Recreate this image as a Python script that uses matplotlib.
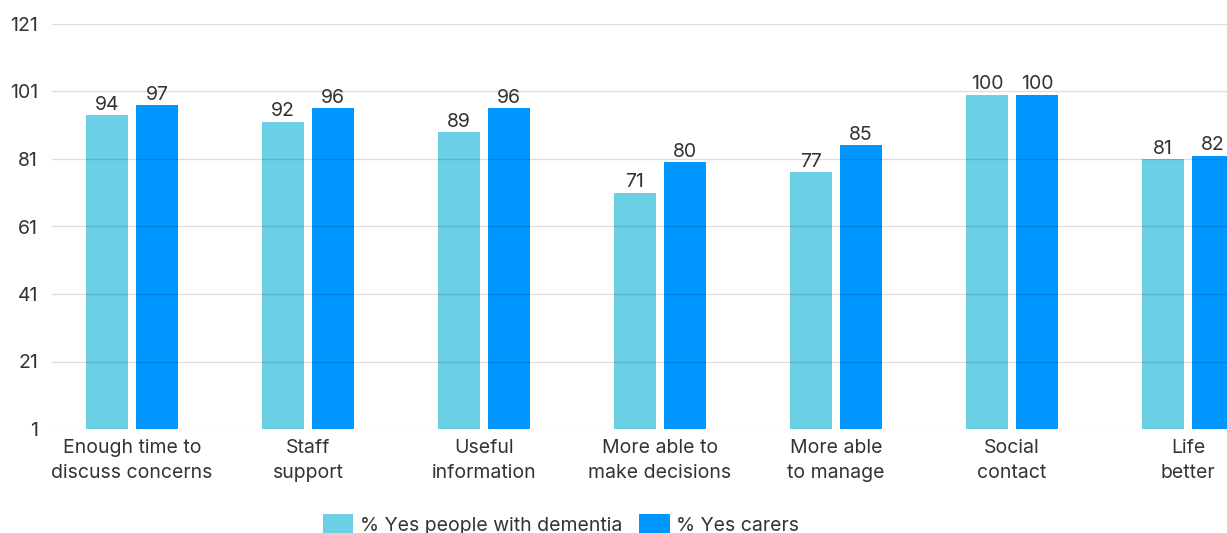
import numpy as np
from matplotlib import pyplot as plt

categories = ["Enough time to\ndiscuss concerns", "Staff\nsupport", "Useful\ninformation",
              "More able to\nmake decisions", "More able\nto manage", "Social\ncontact", "Life\nbetter"]
dementia = [94, 92, 89, 71, 77, 100, 81]
carers = [97, 96, 96, 80, 85, 100, 82]
yticks = [1, 21, 41, 61, 81, 101, 121]

light = "#6BCFE6"
blue = "#0096FF"
text_col = "#333333"


def main():
    plt.rcParams['font.family'] = ['Inter', 'DejaVu Sans']

    fig = plt.figure(figsize=(12.27, 5.33), dpi=100)
    ax = fig.add_axes([52 / 1227, 104 / 533, 1 - 52 / 1227, (429 - 24) / 533])

    x = np.arange(len(categories))
    w = 42 / 176
    off = 25 / 176

    b1 = ax.bar(x - off, dementia, w, bottom=0, color=light, label="% Yes people with dementia", zorder=2)
    b2 = ax.bar(x + off, carers, w, bottom=0, color=blue, label="% Yes carers", zorder=2)

    for bars, vals in ((b1, dementia), (b2, carers)):
        for rect, v in zip(bars, vals):
            ax.annotate(str(v), (rect.get_x() + rect.get_width() / 2, v),
                        xytext=(0, 1), textcoords="offset points",
                        ha="center", va="bottom", fontsize=14, color=text_col,
                        annotation_clip=False)

    ax.set_ylim(1, 121)
    ax.set_yticks(yticks)
    ax.set_xlim(-80 / 176, 1095 / 176)
    ax.set_xticks(x)
    ax.set_xticklabels(categories, fontsize=14, color=text_col, linespacing=1.55)
    ax.tick_params(axis="y", length=0, pad=10, labelsize=14, labelcolor=text_col)
    ax.tick_params(axis="x", length=0, pad=7)

    ax.grid(axis="y", color="black", alpha=0.13, linewidth=1, zorder=3)
    ax.set_axisbelow(False)
    for s in ax.spines.values():
        s.set_visible(False)

    fig.legend(loc="upper center", bbox_to_anchor=(561 / 1227, 1 - 500 / 533), ncol=2,
               frameon=False, fontsize=14, handlelength=1.55, handleheight=1.4,
               columnspacing=0.9, handletextpad=0.35, labelcolor=text_col,
               borderpad=0.2)

    fig.savefig("out.png", dpi=100)
    return 0


if __name__ == '__main__':
    main()
